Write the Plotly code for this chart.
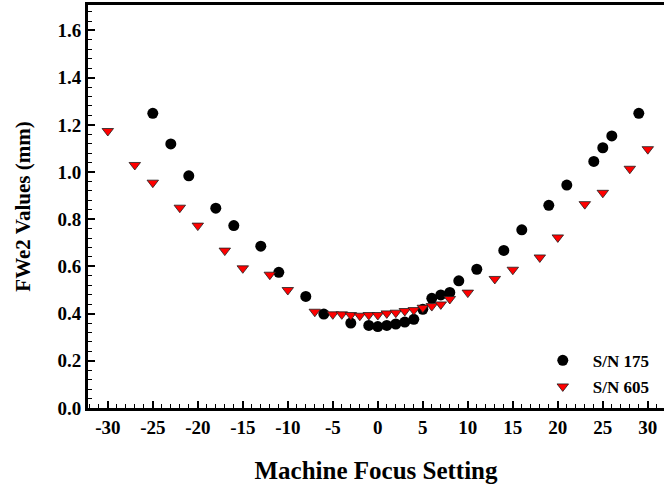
import plotly.graph_objects as go

# S/N 175 (circles)
sn175_x = [-25, -23, -21, -18, -16, -13, -11, -8, -6, -3, -1, 0, 1, 2, 3, 4, 5, 6, 7, 8,
           9, 11, 14, 16, 19, 21, 24, 25, 26, 29]
sn175_y = [1.249, 1.119, 0.984, 0.847, 0.773, 0.686, 0.575, 0.473, 0.398, 0.360, 0.350,
           0.345, 0.350, 0.356, 0.364, 0.376, 0.418, 0.465, 0.479, 0.490, 0.539, 0.588,
           0.668, 0.755, 0.859, 0.945, 1.045, 1.103, 1.153, 1.249]

# S/N 605 (triangles)
sn605_x = [-30, -27, -25, -22, -20, -17, -15, -12, -10, -7, -5, -4, -3, -2, -1, 0, 1, 2,
           3, 4, 5, 6, 7, 8, 10, 13, 15, 18, 20, 23, 25, 28, 30]
sn605_y = [1.174, 1.030, 0.955, 0.849, 0.773, 0.667, 0.592, 0.565, 0.500, 0.408, 0.397,
           0.397, 0.394, 0.391, 0.394, 0.394, 0.401, 0.404, 0.411, 0.415, 0.425, 0.432,
           0.439, 0.462, 0.489, 0.547, 0.586, 0.638, 0.723, 0.864, 0.912, 1.014, 1.097]

x_ticks = [-30, -25, -20, -15, -10, -5, 0, 5, 10, 15, 20, 25, 30]
y_ticks = [0.0, 0.2, 0.4, 0.6, 0.8, 1.0, 1.2, 1.4, 1.6]

FONT = "Liberation Serif"

fig = go.Figure()
fig.add_trace(go.Scatter(
    x=sn175_x, y=sn175_y, mode="markers", name="S/N 175", legendgroup="a",
    marker=dict(symbol="circle", size=11, color="black", line=dict(width=0)),
))
fig.add_trace(go.Scatter(
    x=sn605_x, y=sn605_y, mode="markers", name="S/N 605", legendgroup="b",
    marker=dict(symbol="triangle-down", size=10, color="#FF0000",
                line=dict(width=0.8, color="#202020")),
))

fig.update_layout(
    width=664, height=492,
    margin=dict(l=88, r=0, t=5, b=84),
    paper_bgcolor="white", plot_bgcolor="white",
    font=dict(family=FONT, color="black"),
    showlegend=True,
    legend=dict(
        x=0.984, y=0.008, xanchor="right", yanchor="bottom",
        bgcolor="rgba(0,0,0,0)", borderwidth=0,
        font=dict(family=FONT, size=17, color="black", weight="bold"),
        itemwidth=50, tracegroupgap=1,
    ),
    xaxis=dict(
        range=[-32.2, 31.8],
        tickmode="array", tickvals=x_ticks, ticktext=[str(v) for v in x_ticks],
        ticks="inside", ticklen=7, tickwidth=1.5, tickcolor="black",
        minor=dict(dtick=1, tick0=0, ticks="inside", ticklen=4, tickwidth=1.2, tickcolor="black"),
        showline=True, linewidth=3, linecolor="black", mirror=True,
        showgrid=False, zeroline=False,
        tickfont=dict(family=FONT, size=19, color="black", weight="bold"),
        title=dict(text="Machine Focus Setting", standoff=25,
                   font=dict(family=FONT, size=25, color="black", weight="bold")),
    ),
    yaxis=dict(
        range=[0, 1.708],
        tickmode="array", tickvals=y_ticks, ticktext=[f"{v:.1f}" for v in y_ticks],
        ticks="inside", ticklen=7, tickwidth=1.5, tickcolor="black",
        minor=dict(dtick=0.04, tick0=0, ticks="inside", ticklen=4, tickwidth=1.2, tickcolor="black"),
        showline=True, linewidth=3, linecolor="black", mirror=False,
        showgrid=False, zeroline=False,
        tickfont=dict(family=FONT, size=19, color="black", weight="bold"),
        title=dict(text="FWe2 Values (mm)", standoff=22,
                   font=dict(family=FONT, size=21, color="black", weight="bold")),
    ),
)

fig.write_html("out.html")
